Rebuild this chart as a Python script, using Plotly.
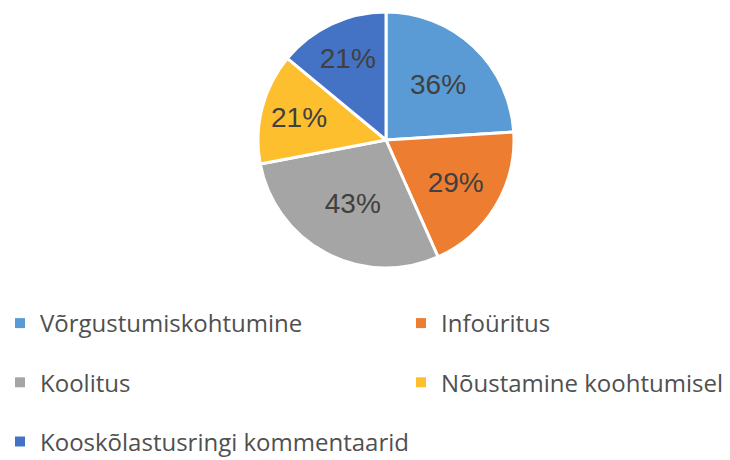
import plotly.graph_objects as go

labels = ["Võrgustumiskohtumine", "Infoüritus", "Koolitus", "Nõustamine koohtumisel", "Kooskõlastusringi kommentaarid"]
values = [36, 29, 43, 21, 21]
colors = ["#5B9BD5", "#ED7D31", "#A5A5A5", "#FDBF2D", "#4472C4"]
legend_col = ["legend", "legend2", "legend", "legend2", "legend"]

W, H = 730, 460
fig = go.Figure()
fig.add_trace(go.Pie(
    labels=labels, values=values, sort=False, direction="clockwise", rotation=0,
    marker=dict(colors=colors, line=dict(color="white", width=3)),
    texttemplate="%{value}%", textposition="inside", insidetextorientation="horizontal",
    textfont=dict(family="Liberation Sans", size=28, color="#404040"),
    showlegend=False, hoverinfo="label+value",
    domain=dict(x=[258 / W, 514 / W], y=[1 - 268 / H, 1 - 12 / H]),
))
for i, (lab, col, lg) in enumerate(zip(labels, colors, legend_col)):
    fig.add_trace(go.Scatter(
        x=[None], y=[None], mode="markers", name=lab,
        marker=dict(symbol="square", size=10, color=col),
        legend=lg, legendgroup=lab, showlegend=True, hoverinfo="skip",
    ))

legfont = dict(family="Open Sans", size=24, color="#505050")
fig.update_layout(
    width=W, height=H, margin=dict(l=0, r=0, t=0, b=0, autoexpand=False),
    paper_bgcolor="white", plot_bgcolor="white",
    xaxis=dict(visible=False, domain=[0, 0.01]), yaxis=dict(visible=False, domain=[0, 0.01]),
    legend=dict(xref="container", yref="container", x=0, y=1 - 301 / H, xanchor="left", yanchor="top",
                orientation="v", tracegroupgap=25, font=legfont, bgcolor="rgba(0,0,0,0)"),
    legend2=dict(xref="container", yref="container", x=401 / W, y=1 - 301 / H, xanchor="left", yanchor="top",
                 orientation="v", tracegroupgap=25, font=legfont, bgcolor="rgba(0,0,0,0)"),
)
fig.write_html("out.html", config={"displayModeBar": False},
               post_script="document.body.style.margin='0';")
